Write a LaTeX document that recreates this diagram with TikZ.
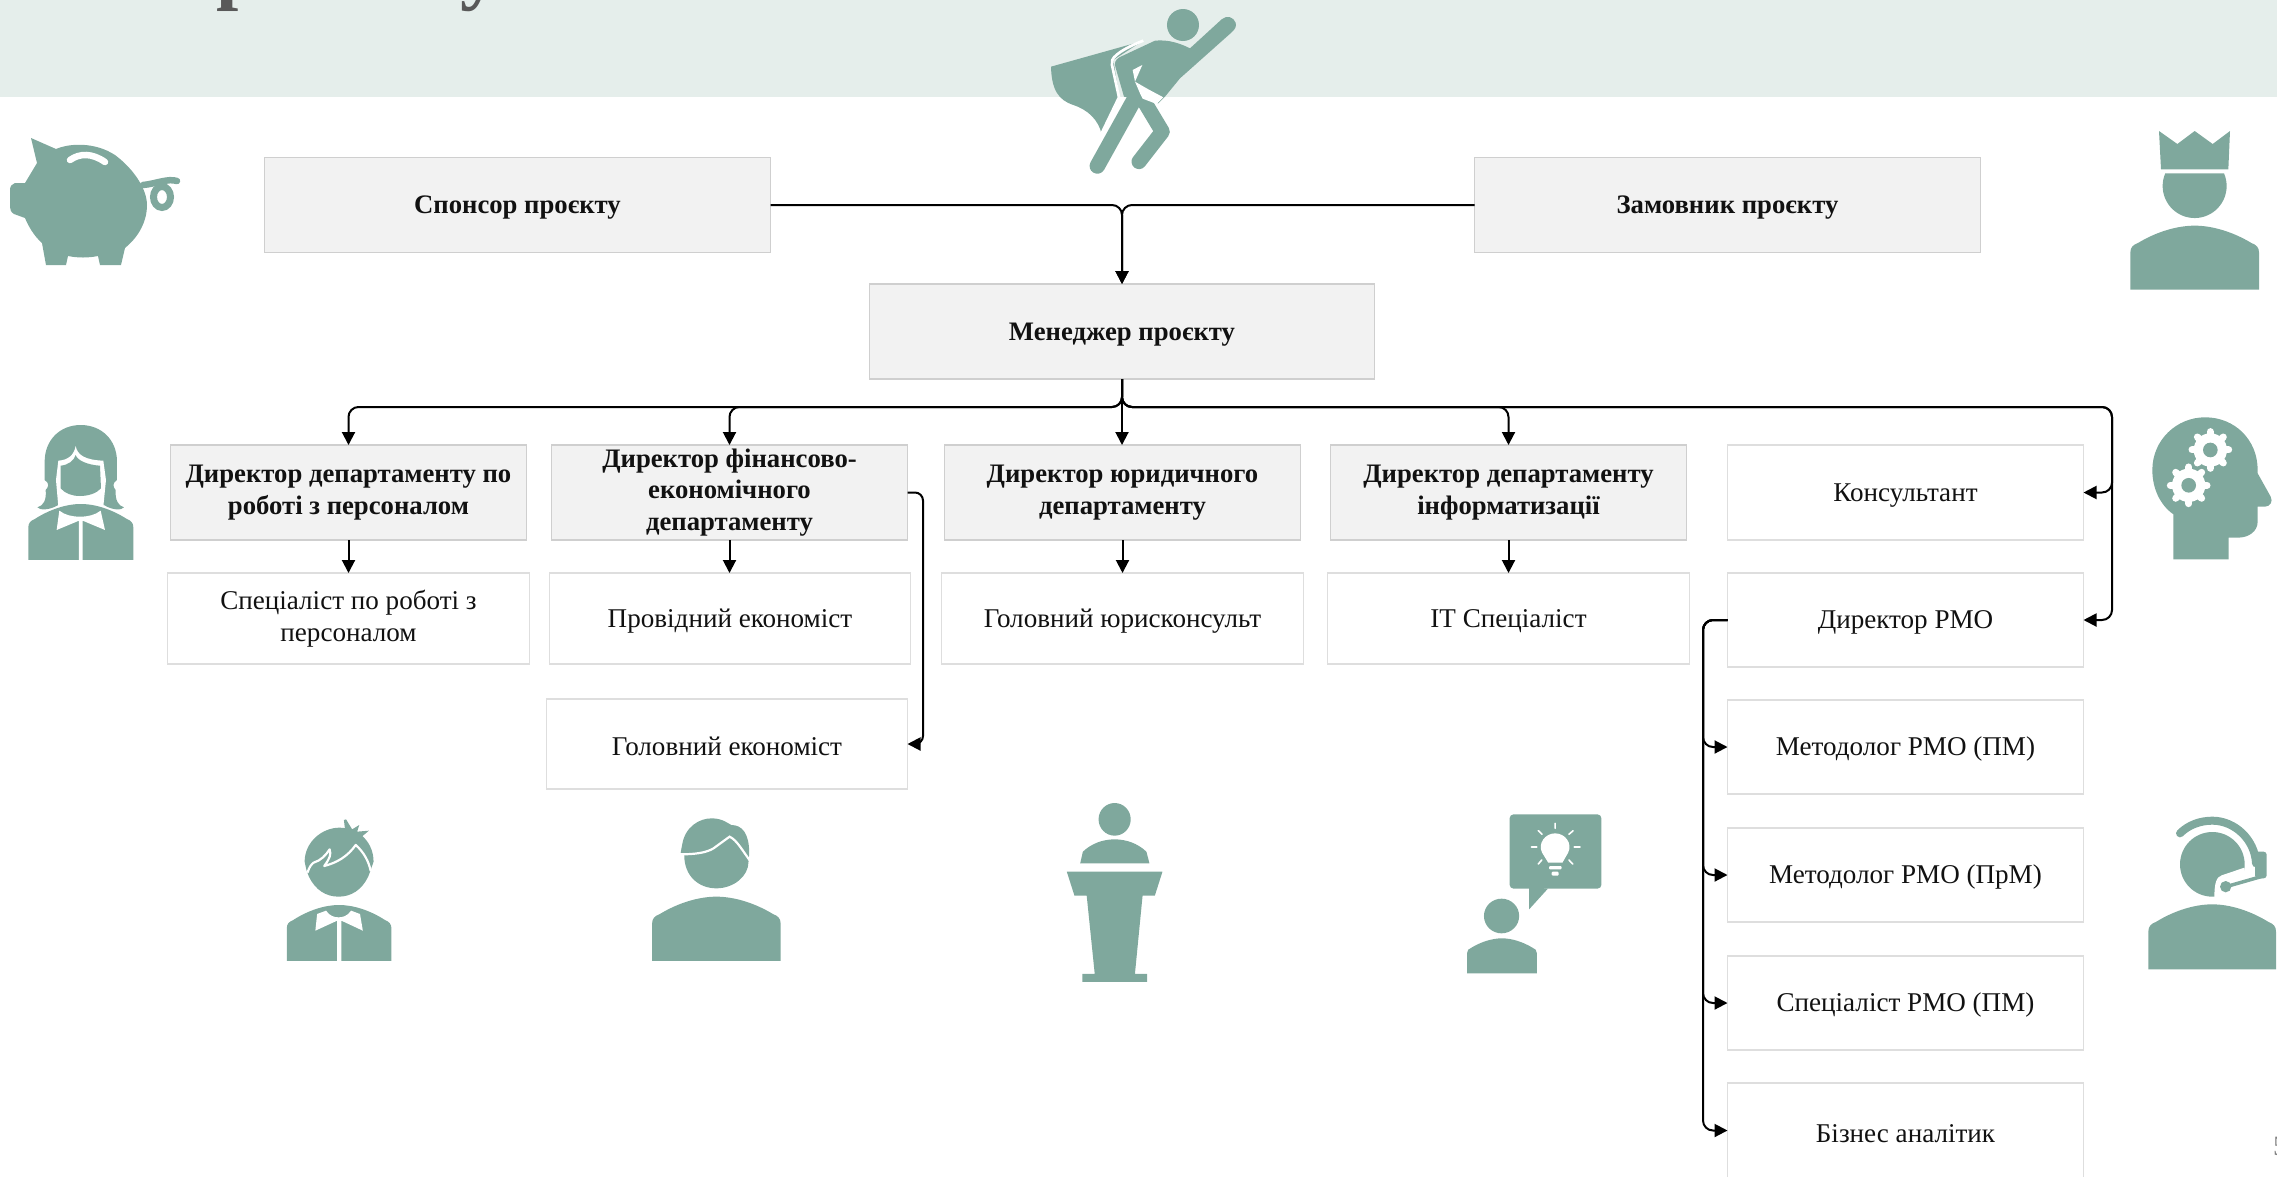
\documentclass[tikz,border=0pt]{standalone}
\usepackage{fontspec}
\setmainfont{Liberation Serif}
\usetikzlibrary{arrows.meta}
\definecolor{iconc}{HTML}{7FA89D}
\definecolor{bandc}{HTML}{E5EEEB}
\definecolor{boxg}{HTML}{F2F2F2}
\definecolor{lineg}{HTML}{CFCFCF}
\definecolor{linew}{HTML}{DEDEDE}
\definecolor{titlec}{HTML}{595959}
\definecolor{txt}{HTML}{111111}
\tikzset{
 headbox/.style={draw=lineg,fill=boxg,line width=1.2pt,inner sep=0pt,outer sep=0pt,align=center,text=txt,font=\fontsize{26.7}{31.5}\selectfont\bfseries,execute at begin node={\rule{0pt}{23.5pt}}},
 plainbox/.style={draw=linew,fill=white,line width=1.2pt,inner sep=0pt,outer sep=0pt,align=center,text=txt,font=\fontsize{27.1}{32}\selectfont,execute at begin node={\rule{0pt}{23.5pt}}},
 conn/.style={draw=black,line width=2pt,rounded corners=10pt,-{Triangle[length=13pt,width=13pt]}},
 zoomA/.style={x=0.3333pt,y=-0.3333pt},
 iconfill/.style={fill=iconc,draw=none},
 titletext/.style={anchor=base west,text=titlec,font=\fontsize{80}{80}\selectfont\bfseries,inner sep=0pt}
}
\newcommand\IconBust[4]{\fill[iconfill,shift={(#1,#2)},x={(#3,0)},y={(0,#4)}] (0,1) -- (0,.42) .. controls (0,.34) and (.02,.30) .. (.06,.27) .. controls (.2,.1) and (.36,0) .. (.5,0) .. controls (.64,0) and (.8,.1) .. (.94,.27) .. controls (.98,.30) and (1,.34) .. (1,.42) -- (1,1) -- cycle;}
\newcommand\IconGear[2]{\fill[white] (#1,#2) circle[radius=50];
 \foreach\a in {0,45,...,315}{\draw[white,line width=7pt,line cap=round] (#1,#2) -- ++(\a:55);}
 \fill[iconc] (#1,#2) circle[radius=22];}
\begin{document}
\begin{tikzpicture}[x=1pt,y=-1pt]
\useasboundingbox (0,0) rectangle (2277,1176);
\fill[bandc] (0,0) rectangle (2277,97);
\node[titletext] (tp) at (216,-5.7) {р};
\node[titletext] (ty) at (460,-5.7) {у};
\node[anchor=base west,text=gray,font=\fontsize{28}{28}\selectfont,inner sep=0pt] (pg) at (2273,1155) {5};

% piggy
\begin{scope}[shift={(0,0)}]
\fill[iconfill] (31,138) -- (56,149) .. controls (70,143) and (95,142) .. (115,155) .. controls (135,170) and (147,190) .. (147,205) .. controls (147,225) and (135,240) .. (125,248) -- (121,265) -- (100,265) -- (98,256) .. controls (88,258) and (78,258) .. (68,256) -- (66,265) -- (46,265) -- (42,243) .. controls (33,235) and (28,225) .. (25,218) -- (14,214) .. controls (11,212) and (10,210) .. (10,207) -- (10,190) .. controls (10,186) and (12,184) .. (15,183) -- (25,183) -- (37,163) -- cycle;
\draw[white,line width=6.5pt,line cap=round] (70,160) .. controls (80,153) and (92,153) .. (105,162);
\draw[iconc,line width=6.5pt,line cap=round] (143,185) .. controls (155,184) and (168,178) .. (177,181);
\draw[iconc,line width=7pt] (162,197) ellipse[x radius=8.5,y radius=10.5];
\end{scope}

% hero
\begin{scope}[shift={(1000,0)},zoomA]
\fill[iconfill] (153,200) -- (428,123) -- (340,180) -- (358,292) -- (305,402) .. controls (295,360) and (265,330) .. (220,315) .. controls (175,300) and (155,270) .. (153,200) -- cycle;
\draw[white,line width=2.7pt] (430,122) .. controls (395,135) and (345,160) .. (337,180) .. controls (335,186) and (335,190) .. (336,195) -- (357,292) -- (303,404);
\draw[iconc,line width=15.5pt,line cap=round] (402,300) -- (292,498);
\draw[iconc,line width=15pt,line cap=round,line join=round] (430,300) -- (487,395) -- (417,485);
\fill[iconfill] (465,122) .. controls (505,118) and (540,130) .. (570,145) -- (665,58) .. controls (680,45) and (700,50) .. (707,68) .. controls (710,80) and (705,88) .. (695,97) -- (540,235) -- (495,290) -- (475,310) -- (420,300) -- (372,290) -- (346,200) .. controls (343,190) and (345,180) .. (358,172) -- cycle;
\fill[white] (398,210) -- (427,195) -- (405,245) -- cycle;
\fill[white] (405,245) -- (445,268) -- (490,292) -- (470,312) -- (428,296) -- (420,280) -- cycle;
\fill[iconc] (549,75) circle[radius=48];
\end{scope}

% crown person
\begin{scope}[shift={(2060,100)},zoomA]
\IconBust{211}{377}{386}{192}
\fill[iconfill] (316,220) -- (492,220) arc[start angle=-23.4,radius=96,delta angle=226.8] -- cycle;
\fill[iconfill] (297,93) -- (352,132) -- (404,93) -- (458,132) -- (510,93) -- (505,208) -- (303,208) -- cycle;
\end{scope}

% thinking head
\begin{scope}[shift={(2060,100)},zoomA]
\fill[iconfill] (340,1378) -- (340,1243) .. controls (300,1215) and (277,1165) .. (277,1110) .. controls (277,1020) and (350,952) .. (435,952) .. controls (525,952) and (593,1020) .. (593,1110) -- (593,1120) -- (632,1190) .. controls (640,1205) and (630,1220) .. (615,1220) -- (593,1220) -- (593,1265) .. controls (593,1295) and (565,1313) .. (535,1313) -- (506,1313) -- (506,1378) -- cycle;
\IconGear{451}{1050}
\IconGear{386}{1156}
\end{scope}

% woman
\begin{scope}[shift={(0,400)},zoomA]
\fill[iconfill] (134,185) .. controls (134,120) and (180,75) .. (242,75) .. controls (305,75) and (351,120) .. (351,185) -- (351,240) .. controls (335,250) and (340,262) .. (347,270) .. controls (345,300) and (355,318) .. (372,322) .. controls (365,332) and (335,330) .. (312,315) -- (175,315) .. controls (150,330) and (120,332) .. (112,322) .. controls (130,318) and (140,300) .. (137,270) .. controls (145,262) and (150,250) .. (134,240) -- cycle;
\fill[white] (227,138) .. controls (232,165) and (255,180) .. (310,182) -- (318,240) -- (310,320) -- (175,320) -- (168,240) -- (175,182) .. controls (205,180) and (222,165) .. (227,138) -- cycle;
\fill[iconfill] (227,165) .. controls (232,182) and (265,195) .. (300,197) -- (303,265) .. controls (290,280) and (265,288) .. (240,288) .. controls (215,288) and (195,280) .. (182,265) -- (182,197) .. controls (205,195) and (222,182) .. (227,165) -- cycle;
\IconBust{85}{312}{315}{168}
\fill[white] (178,332) .. controls (195,345) and (215,350) .. (240,350) .. controls (265,350) and (285,345) .. (302,332) -- (315,390) -- (248,362) -- (248,480) -- (237,480) -- (237,362) -- (170,390) -- cycle;
\end{scope}

% boy
\begin{scope}[shift={(260,790)},x=0.3571pt,y=-0.3333pt]
\IconBust{75}{345}{293}{168}
\fill[white] (160,372) -- (185,362) .. controls (195,378) and (208,382) .. (220,382) .. controls (232,382) and (245,378) .. (255,362) -- (280,372) -- (288,422) -- (228,392) -- (228,513) -- (216,513) -- (216,392) -- (155,422) -- cycle;
\fill[iconfill] (125,215) .. controls (125,155) and (175,113) .. (222,113) .. controls (280,113) and (318,160) .. (318,215) -- (310,240) -- (303,260) .. controls (285,300) and (255,320) .. (220,320) .. controls (185,320) and (155,300) .. (137,260) -- (130,240) -- cycle;
\fill[iconfill] (238,118) -- (235,90) -- (241,88) -- (258,118) -- (278,105) -- (272,125) -- (305,122) -- (285,140) -- cycle;
\draw[white,line width=2.2pt,line join=round] (133,248) .. controls (138,230) and (145,222) .. (150,218) .. controls (170,212) and (185,195) .. (195,178) .. controls (200,195) and (195,205) .. (180,228) .. controls (215,218) and (245,200) .. (268,165) .. controls (290,185) and (305,215) .. (310,243);
\end{scope}

% man
\begin{scope}[shift={(260,790)},x=0.3571pt,y=-0.3333pt]
\IconBust{1098}{320}{360}{193}
\fill[iconfill] (1182,165) .. controls (1190,110) and (1230,85) .. (1265,85) .. controls (1295,85) and (1310,100) .. (1320,105) .. controls (1350,105) and (1370,130) .. (1370,190) -- (1368,215) .. controls (1368,260) and (1325,295) .. (1278,295) .. controls (1230,295) and (1188,260) .. (1188,195) -- (1178,188) -- cycle;
\draw[white,line width=2.2pt] (1176,193) .. controls (1220,193) and (1250,188) .. (1270,175) -- (1315,140) .. controls (1335,150) and (1350,180) .. (1372,212);
\end{scope}

% lectern and idea
\begin{scope}[shift={(1040,780)},x=0.3827pt,y=-0.3333pt]
\fill[iconc] (195,118) ellipse[x radius=42,y radius=49];
\fill[iconfill] (105,250) -- (112,215) .. controls (135,190) and (165,178) .. (195,178) .. controls (225,178) and (255,190) .. (278,215) -- (286,250) -- cycle;
\fill[iconfill] (70,275) -- (320,275) -- (300,347) -- (268,347) -- (248,582) -- (280,582) -- (280,606) -- (111,606) -- (111,582) -- (143,582) -- (122,347) -- (90,347) -- cycle;
\fill[iconc] (1206,408) ellipse[x radius=46,y radius=52];
\IconBust{1116}{475}{182}{105}
\fill[iconfill,rounded corners=4pt] (1227,103) rectangle (1467,326);
\fill[iconfill] (1278,320) -- (1278,388) -- (1327,326) -- cycle;
\fill[white] (1328,248) -- (1312,218) .. controls (1300,190) and (1320,160) .. (1346,160) .. controls (1372,160) and (1392,190) .. (1380,218) -- (1365,248) -- cycle;
\fill[white,rounded corners=1pt] (1330,258) rectangle (1363,268);
\fill[white,rounded corners=1pt] (1337,275) rectangle (1355,287);
\draw[white,line width=1.6pt,line cap=round] (1346,130) -- (1346,145) (1302,152) -- (1312,163) (1393,152) -- (1382,163) (1284,201) -- (1298,201) (1396,201) -- (1411,201) (1302,252) -- (1311,240) (1392,252) -- (1382,240);
\end{scope}

% headset
\begin{scope}[shift={(2100,790)},zoomA]
\IconBust{145}{343}{383}{195}
\fill[iconc] (337,223) circle[radius=97];
\fill[white] (433,233) -- (365,256) .. controls (350,262) and (343,275) .. (343,325) -- (440,325) -- cycle;
\draw[iconc,line width=8pt,line cap=round] (240,130) .. controls (265,105) and (300,92) .. (337,92) .. controls (405,92) and (465,150) .. (468,220);
\fill[iconfill,rounded corners=3pt] (465,185) rectangle (500,265);
\draw[iconc,line width=3.5pt] (490,258) -- (378,290);
\fill[iconc] (377,290) circle[radius=17];
\end{scope}

% boxes
\node[headbox,minimum width=506pt,minimum height=95pt] (spons) at (517.5,205) {Спонсор проєкту};
\node[headbox,minimum width=506pt,minimum height=95pt] (zam) at (1727.5,205) {Замовник проєкту};
\node[headbox,minimum width=505pt,minimum height=95pt] (mgr) at (1122,331.5) {Менеджер проєкту};
\node[headbox,minimum width=356pt,minimum height=95pt] (b1) at (348.5,492.5) {Директор департаменту по\\роботі з персоналом};
\node[headbox,minimum width=356pt,minimum height=95pt] (b2) at (729.5,492.5) {Директор фінансово-\\економічного\\департаменту};
\node[headbox,minimum width=356pt,minimum height=95pt] (b3) at (1122.5,492.5) {Директор юридичного\\департаменту};
\node[headbox,minimum width=356pt,minimum height=95pt] (b4) at (1508.5,492.5) {Директор департаменту\\інформатизації};
\node[plainbox,minimum width=356pt,minimum height=95pt] (cons) at (1905.5,492.5) {Консультант};
\node[plainbox,minimum width=362pt,minimum height=91pt] (s1) at (348.5,618.5) {Спеціаліст по роботі з\\персоналом};
\node[plainbox,minimum width=361pt,minimum height=91pt] (s2) at (730,618.5) {Провідний економіст};
\node[plainbox,minimum width=362pt,minimum height=91pt] (s3) at (1122.5,618.5) {Головний юрисконсульт};
\node[plainbox,minimum width=362pt,minimum height=91pt] (s4) at (1508.5,618.5) {ІТ Спеціаліст};
\node[plainbox,minimum width=356pt,minimum height=94pt] (pmo) at (1905.5,620) {Директор РМО};
\node[plainbox,minimum width=361pt,minimum height=90pt] (hol) at (727,744) {Головний економіст};
\node[plainbox,minimum width=356pt,minimum height=94pt] (m1) at (1905.5,747) {Методолог РМО (ПМ)};
\node[plainbox,minimum width=356pt,minimum height=94pt] (m2) at (1905.5,875) {Методолог РМО (ПрМ)};
\node[plainbox,minimum width=356pt,minimum height=94pt] (m3) at (1905.5,1003) {Спеціаліст РМО (ПМ)};
\node[plainbox,minimum width=356pt,minimum height=95pt] (m4) at (1905.5,1130.5) {Бізнес аналітик};

% helper coordinates
\coordinate (bus) at (0,407);
\coordinate (railr) at (2112,0);
\coordinate (railf) at (923,0);
\coordinate (railp) at (1703,0);

% connectors
\draw[conn] (spons.east) -- (spons.east -| mgr.north) -- (mgr.north);
\draw[conn] (zam.west) -- (zam.west -| mgr.north) -- (mgr.north);
\draw[conn] (mgr.south) -- (mgr.south |- bus) -- (b1.north |- bus) -- (b1.north);
\draw[conn] (mgr.south) -- (mgr.south |- bus) -- (b2.north |- bus) -- (b2.north);
\draw[conn] (mgr.south) -- (b3.north -| mgr.south);
\draw[conn] (mgr.south) -- (mgr.south |- bus) -- (b4.north |- bus) -- (b4.north);
\draw[conn] (mgr.south) -- (mgr.south |- bus) -- (railr |- bus) -- (railr |- cons.east) -- (cons.east);
\draw[conn] (mgr.south) -- (mgr.south |- bus) -- (railr |- bus) -- (railr |- pmo.east) -- (pmo.east);
\draw[conn] (b1.south) -- (b1.south |- s1.north);
\draw[conn] (b2.south) -- (b2.south |- s2.north);
\draw[conn] (b3.south) -- (b3.south |- s3.north);
\draw[conn] (b4.south) -- (b4.south |- s4.north);
\draw[conn,rounded corners=8pt] (b2.east) -- (railf |- b2.east) -- (railf |- hol.east) -- (hol.east);
\draw[conn] (pmo.west) -- (railp |- pmo.west) -- (railp |- m1.west) -- (m1.west);
\draw[conn] (pmo.west) -- (railp |- pmo.west) -- (railp |- m2.west) -- (m2.west);
\draw[conn] (pmo.west) -- (railp |- pmo.west) -- (railp |- m3.west) -- (m3.west);
\draw[conn] (pmo.west) -- (railp |- pmo.west) -- (railp |- m4.west) -- (m4.west);
\end{tikzpicture}
\end{document}
